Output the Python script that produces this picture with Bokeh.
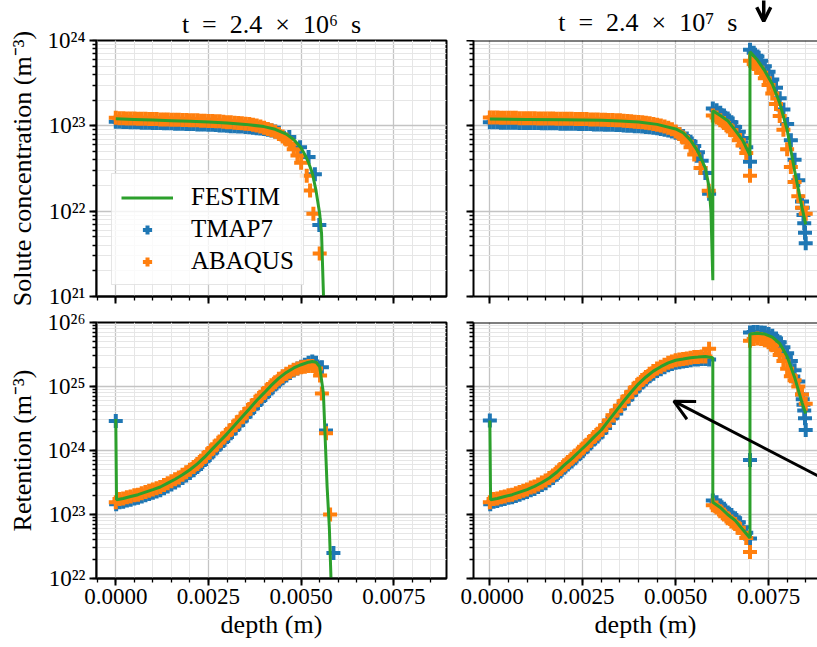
from bokeh.plotting import figure
from bokeh.layouts import column, row
from bokeh.models import (Range1d, LogTicker, SingleIntervalTicker, CustomJSTickFormatter,
                          PrintfTickFormatter, Legend, LegendItem, Arrow, OpenHead, Span)
from bokeh.core.properties import value
from bokeh.embed import file_html
from bokeh.resources import INLINE

BLUE, ORANGE, GREEN = "#1f77b4", "#ff7f0e", "#2ca02c"
FONT = "Liberation Serif"

# ---------------- data ----------------
MESH = [0.0000, 0.0001, 0.0002, 0.0003, 0.0004, 0.0005, 0.0006, 0.0007, 0.0008, 0.0009,
        0.0010, 0.0011, 0.0012, 0.0013, 0.0014, 0.0015, 0.0016, 0.0017, 0.0018, 0.0019,
        0.0020, 0.0021, 0.0022, 0.0023, 0.0024, 0.0025, 0.0026, 0.0027, 0.0028, 0.0029,
        0.0030, 0.0031, 0.0032, 0.0033, 0.0034, 0.0035, 0.0036, 0.0037, 0.0038, 0.0039,
        0.0040, 0.0041, 0.0042, 0.0043, 0.0044, 0.0045, 0.0046, 0.0047, 0.0048, 0.0049,
        0.0050, 0.0051, 0.0052, 0.0053, 0.0054, 0.0055, 0.0056, 0.0057, 0.0058, 0.0059,
        0.0060, 0.0061, 0.0062, 0.0063, 0.0064, 0.0065, 0.0066, 0.0067, 0.0068, 0.0069,
        0.0070, 0.0071, 0.0072, 0.0073, 0.0074, 0.0075, 0.0076, 0.0077, 0.0078, 0.0079,
        0.0080, 0.0081, 0.0082, 0.0083, 0.0084, 0.0085]

# --- solute, t = 2.4e6 s
sol6_festim_x = [0.0, 0.0005, 0.001, 0.0015, 0.002, 0.0025, 0.003, 0.0035, 0.004, 0.0043, 0.0046,
                 0.0048, 0.005, 0.0051, 0.0052, 0.0053, 0.0054, 0.0055, 0.00555, 0.0056, 0.00565]
sol6_festim_y = [1.21e23, 1.19e23, 1.17e23, 1.15e23, 1.13e23, 1.11e23, 1.08e23, 1.04e23, 9.8e22, 9.1e22,
                 8.0e22, 6.9e22, 5.5e22, 4.6e22, 3.7e22, 2.8e22, 1.75e22, 9.3e21, 5.5e21, 1.1e21, 1.0e20]
sol6_tmap7_x = MESH[0:45] + [0.00468, 0.00497, 0.0052, 0.00537, 0.00549]
sol6_tmap7_y = [1.12e23, 1.12e23, 1.11e23, 1.11e23, 1.10e23, 1.10e23, 1.10e23, 1.09e23, 1.09e23, 1.09e23,
                1.08e23, 1.08e23, 1.08e23, 1.07e23, 1.07e23, 1.07e23, 1.06e23, 1.06e23, 1.06e23, 1.05e23,
                1.05e23, 1.05e23, 1.04e23, 1.04e23, 1.04e23, 1.03e23, 1.03e23, 1.02e23, 1.01e23, 1.01e23,
                1.00e23, 9.9e22, 9.9e22, 9.8e22, 9.8e22, 9.7e22, 9.6e22, 9.5e22, 9.4e22, 9.3e22,
                9.2e22, 9.0e22, 8.8e22, 8.6e22, 8.3e22,
                7.4e22, 5.6e22, 4.3e22, 2.7e22, 6.9e21]
sol6_abaqus_x = MESH[0:51] + [0.00515, 0.00524, 0.00533, 0.0055]
sol6_abaqus_y = [1.24e23, 1.23e23, 1.23e23, 1.22e23, 1.22e23, 1.22e23, 1.21e23, 1.21e23, 1.21e23, 1.20e23,
                 1.20e23, 1.20e23, 1.19e23, 1.19e23, 1.19e23, 1.18e23, 1.18e23, 1.18e23, 1.17e23, 1.17e23,
                 1.16e23, 1.16e23, 1.16e23, 1.15e23, 1.15e23, 1.14e23, 1.14e23, 1.13e23, 1.13e23, 1.12e23,
                 1.10e23, 1.10e23, 1.09e23, 1.08e23, 1.07e23, 1.06e23, 1.05e23, 1.03e23, 1.01e23, 9.8e22,
                 9.5e22, 9.2e22, 8.9e22, 8.5e22, 8.0e22, 7.5e22, 6.9e22, 6.2e22, 5.3e22, 4.5e22,
                 3.7e22,
                 2.6e22, 1.75e22, 9.3e21, 3.2e21]

# --- retention, t = 2.4e6 s
ret6_festim_x = [0.0, 0.00002, 0.0002, 0.0004, 0.0006, 0.0008, 0.0010, 0.0012, 0.0014, 0.0016, 0.0018,
                 0.0020, 0.0022, 0.0024, 0.0026, 0.0028, 0.0030, 0.0032, 0.0034, 0.0036, 0.0038,
                 0.0040, 0.0042, 0.0044, 0.0046, 0.0048, 0.0050, 0.0052, 0.0053, 0.0054, 0.0055,
                 0.0056, 0.00564, 0.0057, 0.00576, 0.0058, 0.00583]
ret6_festim_y = [3.1e24, 1.70e23, 1.78e23, 1.91e23, 2.04e23, 2.24e23, 2.45e23, 2.69e23, 3.09e23, 3.55e23, 4.17e23,
                 5.01e23, 6.17e23, 7.94e23, 1.05e24, 1.38e24, 1.82e24, 2.45e24, 3.31e24, 4.47e24, 6.03e24,
                 7.94e24, 1.05e25, 1.35e25, 1.66e25, 1.95e25, 2.19e25, 2.40e25, 2.45e25, 2.40e25, 2.04e25,
                 7.8e24, 2.0e24, 2.7e23, 6.3e22, 1.2e22, 3.2e21]
ret6_tmap7_x = [0.0, 0.00001] + MESH[1:55] + [0.00556, 0.00567, 0.00587]
ret6_tmap7_y = [2.9e24, 1.45e23,
                1.55e23, 1.58e23, 1.66e23, 1.70e23, 1.78e23, 1.82e23, 1.91e23, 2.00e23, 2.09e23, 2.19e23,
                2.29e23, 2.40e23, 2.57e23, 2.75e23, 2.95e23, 3.16e23, 3.39e23, 3.72e23, 4.07e23, 4.47e23,
                4.90e23, 5.50e23, 6.17e23, 7.08e23, 8.13e23, 9.33e23, 1.07e24, 1.23e24, 1.41e24, 1.62e24,
                1.86e24, 2.19e24, 2.51e24, 2.95e24, 3.39e24, 3.98e24, 4.57e24, 5.37e24, 6.17e24, 7.08e24,
                8.13e24, 9.33e24, 1.07e25, 1.20e25, 1.35e25, 1.48e25, 1.62e25, 1.78e25, 1.91e25, 2.04e25,
                2.19e25, 2.34e25, 2.45e25, 2.34e25,
                2.0e25, 2.05e24, 2.5e22]
ret6_abaqus_x = MESH[0:55] + [0.00551, 0.00556, 0.00567, 0.00578]
ret6_abaqus_y = [1.55e23, 1.74e23, 1.78e23, 1.86e23, 1.91e23, 2.00e23, 2.04e23, 2.14e23, 2.24e23, 2.34e23,
                 2.45e23, 2.57e23, 2.69e23, 2.88e23, 3.09e23, 3.31e23, 3.55e23, 3.80e23, 4.17e23, 4.57e23,
                 5.01e23, 5.50e23, 6.17e23, 6.92e23, 7.94e23, 9.12e23, 1.05e24, 1.20e24, 1.38e24, 1.58e24,
                 1.82e24, 2.09e24, 2.45e24, 2.82e24, 3.31e24, 3.80e24, 4.47e24, 5.13e24, 6.03e24, 6.92e24,
                 7.94e24, 9.12e24, 1.05e25, 1.17e25, 1.32e25, 1.45e25, 1.58e25, 1.70e25, 1.82e25, 1.91e25,
                 2.00e25, 2.04e25, 2.09e25, 2.09e25, 1.91e25,
                 1.48e25, 7.8e24, 1.86e24, 1.0e23]

# --- solute, t = 2.4e7 s
sol7_festim_x = [0.0, 0.001, 0.002, 0.003, 0.0035, 0.004, 0.0045, 0.005, 0.0052, 0.0054, 0.0056, 0.0058,
                 0.0059, 0.00595, 0.006, 0.006, 0.0062, 0.0064, 0.0066, 0.0068, 0.007, 0.007, 0.0072,
                 0.0074, 0.0076, 0.0078, 0.008, 0.0082, 0.0084, 0.0085]
sol7_festim_y = [1.2e23, 1.19e23, 1.18e23, 1.16e23, 1.14e23, 1.11e23, 1.04e23, 9.2e22, 8.3e22, 6.8e22, 5.0e22,
                 3.2e22, 1.9e22, 1.0e22, 1.55e21, 1.5e23, 1.32e23, 1.15e23, 8.9e22, 6.8e22, 4.5e22, 7.4e23,
                 5.9e23, 4.4e23, 3.1e23, 1.85e23, 9.0e22, 3.0e22, 1.1e22, 7.0e21]
sol7_tmap7_x = MESH[0:86] + [0.00842, 0.00844, 0.00846, 0.00848, 0.0070]
sol7_tmap7_y = [1.10e23, 1.10e23, 1.10e23, 1.09e23, 1.09e23, 1.09e23, 1.09e23, 1.09e23, 1.08e23, 1.08e23,
                1.08e23, 1.08e23, 1.08e23, 1.08e23, 1.07e23, 1.07e23, 1.07e23, 1.07e23, 1.07e23, 1.06e23,
                1.06e23, 1.06e23, 1.06e23, 1.06e23, 1.05e23, 1.05e23, 1.05e23, 1.05e23, 1.04e23, 1.04e23,
                1.04e23, 1.03e23, 1.03e23, 1.03e23, 1.02e23, 1.02e23, 1.01e23, 1.00e23, 1.00e23, 9.9e22,
                9.9e22, 9.8e22, 9.7e22, 9.6e22, 9.5e22, 9.4e22, 9.2e22, 9.0e22, 8.8e22, 8.6e22,
                8.3e22, 8.0e22, 7.6e22, 7.1e22, 6.5e22, 5.8e22, 4.9e22, 3.9e22, 2.8e22, 1.6e22,
                1.6e23, 1.52e23, 1.42e23, 1.32e23, 1.22e23, 1.10e23, 9.7e22, 8.5e22, 7.2e22, 5.6e22,
                3.8e22, 7.2e23, 6.5e23, 5.8e23, 5.0e23, 4.3e23, 3.5e23, 2.8e23, 2.1e23, 1.55e23,
                1.05e23, 6.8e22, 4.0e22, 2.3e22, 1.3e22, 4.2e21,
                1.1e22, 9.0e21, 7.2e21, 5.6e21, 7.8e23]
sol7_abaqus_x = MESH[0:56] + [0.00567, 0.00589] + MESH[60:71] + MESH[70:86]
sol7_abaqus_y = [1.25e23, 1.25e23, 1.25e23, 1.24e23, 1.24e23, 1.24e23, 1.24e23, 1.24e23, 1.23e23, 1.23e23,
                 1.23e23, 1.23e23, 1.23e23, 1.22e23, 1.22e23, 1.22e23, 1.22e23, 1.22e23, 1.21e23, 1.21e23,
                 1.21e23, 1.21e23, 1.21e23, 1.20e23, 1.20e23, 1.20e23, 1.20e23, 1.19e23, 1.19e23, 1.19e23,
                 1.18e23, 1.18e23, 1.17e23, 1.17e23, 1.16e23, 1.16e23, 1.15e23, 1.14e23, 1.13e23, 1.12e23,
                 1.11e23, 1.10e23, 1.09e23, 1.07e23, 1.05e23, 1.03e23, 1.01e23, 9.8e22, 9.5e22, 9.1e22,
                 8.6e22, 8.0e22, 7.3e22, 6.5e22, 5.6e22, 4.6e22,
                 3.2e22, 1.74e22,
                 1.32e23, 1.25e23, 1.16e23, 1.08e23, 9.8e22, 8.9e22, 7.8e22, 6.8e22, 5.9e22, 4.8e22, 2.6e22,
                 5.8e23, 5.3e23, 4.8e23, 4.2e23, 3.6e23, 3.0e23, 2.4e23, 1.8e23, 1.3e23, 9.0e22,
                 5.3e22, 3.3e22, 2.2e22, 1.5e22, 1.1e22, 9.3e21]

# --- retention, t = 2.4e7 s
ret7_festim_x = [0.0, 0.00002, 0.0002, 0.0004, 0.0006, 0.0008, 0.0010, 0.0012, 0.0014, 0.0016, 0.0018,
                 0.0020, 0.0022, 0.0024, 0.0026, 0.0028, 0.0030, 0.0032, 0.0034, 0.0036, 0.0038,
                 0.0040, 0.0042, 0.0044, 0.0046, 0.0048, 0.0050, 0.0052, 0.0054, 0.0056, 0.0058,
                 0.0060, 0.0060, 0.0062, 0.0064, 0.0066, 0.0068, 0.0070, 0.0070, 0.0072, 0.0074,
                 0.0076, 0.0078, 0.0080, 0.0082, 0.0084, 0.0085]
ret7_festim_y = [2.95e24, 1.70e23, 1.78e23, 1.91e23, 2.04e23, 2.24e23, 2.45e23, 2.75e23, 3.16e23, 3.72e23, 4.57e23,
                 5.89e23, 7.41e23, 9.55e23, 1.23e24, 1.62e24, 2.09e24, 2.95e24, 4.17e24, 5.89e24, 8.13e24,
                 1.10e25, 1.41e25, 1.74e25, 2.04e25, 2.34e25, 2.57e25, 2.69e25, 2.82e25, 2.88e25, 2.95e25,
                 2.82e25, 1.55e23, 1.29e23, 1.0e23, 8.1e22, 5.9e22, 4.3e22, 6.6e25, 6.8e25, 6.6e25,
                 5.9e25, 4.7e25, 2.95e25, 1.4e25, 5.6e24, 3.8e24]
ret7_tmap7_x = ([0.0, 0.00001] + MESH[1:60] + MESH[60:71] + [0.0070] + MESH[70:85]
                + [0.00842, 0.00844, 0.00846, 0.00848, 0.0085])
ret7_tmap7_y = [2.95e24, 1.45e23,
                1.58e23, 1.62e23, 1.70e23, 1.74e23, 1.82e23, 1.86e23, 1.95e23, 2.04e23, 2.14e23, 2.24e23,
                2.40e23, 2.51e23, 2.69e23, 2.88e23, 3.09e23, 3.39e23, 3.72e23, 4.17e23, 4.68e23, 5.37e23,
                6.03e23, 6.76e23, 7.59e23, 8.71e23, 9.77e23, 1.12e24, 1.29e24, 1.48e24, 1.66e24, 1.91e24,
                2.24e24, 2.69e24, 3.24e24, 3.80e24, 4.57e24, 5.37e24, 6.31e24, 7.41e24, 8.71e24, 1.00e25,
                1.15e25, 1.29e25, 1.45e25, 1.58e25, 1.74e25, 1.86e25, 2.00e25, 2.14e25, 2.24e25, 2.34e25,
                2.40e25, 2.45e25, 2.51e25, 2.57e25, 2.63e25, 2.63e25, 2.69e25, 2.69e25, 2.63e25,
                1.66e23, 1.55e23, 1.38e23, 1.23e23, 1.07e23, 9.8e22, 8.7e22, 7.6e22, 6.3e22, 5.2e22, 4.2e22,
                7.1e23,
                7.0e25, 7.1e25, 7.1e25, 7.0e25, 6.9e25, 6.6e25, 6.2e25, 5.6e25, 4.9e25, 4.1e25,
                3.3e25, 2.5e25, 1.8e25, 1.2e25, 7.5e24,
                6.3e24, 5.2e24, 4.2e24, 3.2e24, 2.1e24]
ret7_abaqus_x = MESH[0:59] + [0.0059] + MESH[60:71] + MESH[70:86]
ret7_abaqus_y = [1.55e23, 1.74e23, 1.78e23, 1.86e23, 1.91e23, 2.00e23, 2.04e23, 2.14e23, 2.24e23, 2.34e23,
                 2.45e23, 2.63e23, 2.75e23, 2.95e23, 3.16e23, 3.39e23, 3.72e23, 4.07e23, 4.57e23, 5.13e23,
                 5.89e23, 6.61e23, 7.41e23, 8.32e23, 9.55e23, 1.07e24, 1.23e24, 1.41e24, 1.62e24, 1.82e24,
                 2.09e24, 2.45e24, 2.95e24, 3.55e24, 4.17e24, 5.01e24, 5.89e24, 6.92e24, 8.13e24, 9.55e24,
                 1.10e25, 1.26e25, 1.41e25, 1.58e25, 1.74e25, 1.91e25, 2.04e25, 2.19e25, 2.34e25, 2.45e25,
                 2.57e25, 2.63e25, 2.69e25, 2.75e25, 2.82e25, 2.88e25, 2.88e25, 2.95e25, 2.95e25,
                 3.9e25,
                 1.40e23, 1.29e23, 1.12e23, 1.00e23, 8.7e22, 7.8e22, 7.1e22, 6.2e22, 5.2e22, 4.3e22, 2.6e22,
                 5.2e25, 5.5e25, 5.6e25, 5.5e25, 5.3e25, 4.9e25, 4.4e25, 3.8e25, 3.1e25, 2.5e25,
                 1.9e25, 1.45e25, 1.25e25, 1.0e25, 7.5e24, 5.4e24]

TITLES = ["t\u2002=\u20022.4\u2002\u00d7\u200210\u2076\u2002s", "t\u2002=\u20022.4\u2002\u00d7\u200210\u2077\u2002s"]
YLABELS = ["Solute concentration (m\u207b\u00b3)", "Retention (m\u207b\u00b3)"]
XLABEL = "depth (m)"
SERIES = ["FESTIM", "TMAP7", "ABAQUS"]
TITLE_SIZE = "26px"

# ---------------- styling helpers ----------------
SUP_FMT = CustomJSTickFormatter(code="""
const m = {"0":"\u2070","1":"\u00b9","2":"\u00b2","3":"\u00b3","4":"\u2074","5":"\u2075",
           "6":"\u2076","7":"\u2077","8":"\u2078","9":"\u2079","-":"\u207b"};
const e = Math.round(Math.log10(tick));
return "10" + String(e).split("").map(c => m[c]).join("");
""")


def empty_fmt():
    return CustomJSTickFormatter(code="return '';")


def make_head(w, xr, bl, br, title, arrow=None):
    p = figure(width=w, height=40, x_range=Range1d(*xr), y_range=Range1d(0, 40),
               x_axis_location=None, y_axis_location=None,
               output_backend="svg", toolbar_location=None,
               min_border_left=bl, min_border_right=br, min_border_top=0, min_border_bottom=0,
               background_fill_color="white", border_fill_color="white")
    p.outline_line_color = None
    p.grid.visible = False
    p.text(x=[0.00425], y=[18], text=[title], text_font=value(FONT), text_font_size=TITLE_SIZE,
           text_align="center", text_baseline="middle", text_color="black")
    if arrow is not None:
        p.add_layout(Arrow(end=OpenHead(size=14, line_width=3.5, line_color="black"),
                           x_start=arrow["x"], y_start=arrow["y_start"],
                           x_end=arrow["x"], y_end=arrow["y_end"],
                           line_width=3.5, line_color="black"))
    return p


def make_fig(w, h, xr, yr, borders, xlabels=False, ylabels=False, box=True, ylabel=None, title=None):
    bl, br, bt, bb = borders
    kw = dict(width=w, height=h, x_range=Range1d(*xr), y_range=Range1d(*yr), y_axis_type="log",
              output_backend="svg", toolbar_location=None,
              min_border_left=bl, min_border_right=br, min_border_top=bt, min_border_bottom=bb,
              background_fill_color="white", border_fill_color="white")
    if title is not None:
        kw["title"] = title
    p = figure(**kw)
    if title is not None:
        p.title.align = "center"
        p.title.text_font = FONT
        p.title.text_font_size = TITLE_SIZE
        p.title.text_font_style = "normal"
        p.title.text_color = "black"
        p.title.standoff = 4
    p.outline_line_color = "black" if box else None
    p.outline_line_width = 2
    xt = SingleIntervalTicker(interval=0.0025, num_minor_ticks=5)
    yt = LogTicker(num_minor_ticks=10)
    p.xaxis.ticker = xt
    p.xgrid.ticker = xt
    p.yaxis.ticker = yt
    p.ygrid.ticker = yt
    for g in (p.xgrid, p.ygrid):
        g.grid_line_color = "#c4c4c4"
        g.grid_line_width = 1.3
        g.minor_grid_line_color = "#e6e6e6"
        g.minor_grid_line_width = 1
    for ax in (p.xaxis[0], p.yaxis[0]):
        ax.axis_line_width = 2
        ax.axis_line_color = "black"
        ax.major_tick_line_width = 2
        ax.major_tick_out = 7
        ax.major_tick_in = 0
        ax.minor_tick_line_width = 1.3
        ax.minor_tick_out = 4
        ax.minor_tick_in = 0
        ax.major_label_text_font = FONT
        ax.major_label_text_font_size = "23px"
        ax.major_label_text_color = "black"
        ax.axis_label_text_font = FONT
        ax.axis_label_text_font_size = "26px"
        ax.axis_label_text_font_style = "normal"
        ax.axis_label_text_color = "black"
    xa, ya = p.xaxis[0], p.yaxis[0]
    if xlabels:
        xa.formatter = PrintfTickFormatter(format="%.4f")
        xa.major_label_standoff = 3
        xa.axis_label = XLABEL
        xa.axis_label_standoff = 3
    else:
        xa.formatter = empty_fmt()
        xa.major_label_text_font_size = "0px"
        xa.major_label_standoff = 0
    if ylabels:
        ya.formatter = SUP_FMT
        ya.major_label_standoff = 4
        ya.axis_label = ylabel
        ya.axis_label_standoff = 8
    else:
        ya.formatter = empty_fmt()
        ya.major_label_text_font_size = "0px"
        ya.major_label_standoff = 0
    if not box:
        p.add_layout(Span(location=yr[1], dimension="width", line_color="black", line_width=2))
    return p


def add_series(p, fx, fy, tx, ty, ax_, ay):
    rb = p.scatter(tx, ty, marker="cross", size=14, line_width=4, color=BLUE)
    ro = p.scatter(ax_, ay, marker="cross", size=14, line_width=4, color=ORANGE)
    rg = p.line(fx, fy, line_width=3, color=GREEN)
    return rg, rb, ro


XR_L = (-0.00052, 0.00892)
XR_R = (-0.00044, 0.008817)
YR_SOL = (1e21, 1e24)
YR_RET = (1e22, 1e26)

TOP_ARROW = dict(x=0.00737, y_start=42, y_end=19.3)
MID_ARROW = dict(x_start=0.0092, y_start=3.1e23, x_end=0.00495, y_end=5.9e24)

tl = make_fig(460, 309, XR_L, YR_SOL, (96, 14, 40, 13), ylabels=True, ylabel=YLABELS[0], title=TITLES[0])
hr = make_head(357, XR_R, 13, 0, TITLES[1], arrow=TOP_ARROW)
tr = make_fig(357, 269, XR_R, YR_SOL, (13, 0, 0, 13), box=False)
bl = make_fig(460, 338, XR_L, YR_RET, (96, 14, 13, 69), xlabels=True, ylabels=True, ylabel=YLABELS[1])
br = make_fig(357, 338, XR_R, YR_RET, (13, 0, 13, 69), xlabels=True, box=False)

g, b, o = add_series(tl, sol6_festim_x, sol6_festim_y, sol6_tmap7_x, sol6_tmap7_y, sol6_abaqus_x, sol6_abaqus_y)
add_series(tr, sol7_festim_x, sol7_festim_y, sol7_tmap7_x, sol7_tmap7_y, sol7_abaqus_x, sol7_abaqus_y)
add_series(bl, ret6_festim_x, ret6_festim_y, ret6_tmap7_x, ret6_tmap7_y, ret6_abaqus_x, ret6_abaqus_y)
add_series(br, ret7_festim_x, ret7_festim_y, ret7_tmap7_x, ret7_tmap7_y, ret7_abaqus_x, ret7_abaqus_y)

legend = Legend(items=[LegendItem(label=SERIES[0], renderers=[g]),
                       LegendItem(label=SERIES[1], renderers=[b]),
                       LegendItem(label=SERIES[2], renderers=[o])],
                location=(15, 11), label_text_font=FONT, label_text_font_size="25px",
                label_text_color="black", glyph_width=52, glyph_height=23, label_height=23,
                spacing=4, padding=9, label_standoff=18, margin=0,
                border_line_color="#cccccc", border_line_width=1,
                background_fill_color="white", background_fill_alpha=0.8)
tl.add_layout(legend)

br.add_layout(Arrow(end=OpenHead(size=20, line_width=3, line_color="black"),
                    x_start=MID_ARROW["x_start"], y_start=MID_ARROW["y_start"],
                    x_end=MID_ARROW["x_end"], y_end=MID_ARROW["y_end"],
                    line_width=3, line_color="black"))

layout = column(row(tl, column(hr, tr)), row(bl, br))
open("out.html", "w").write(file_html(layout, INLINE, title="plot"))
